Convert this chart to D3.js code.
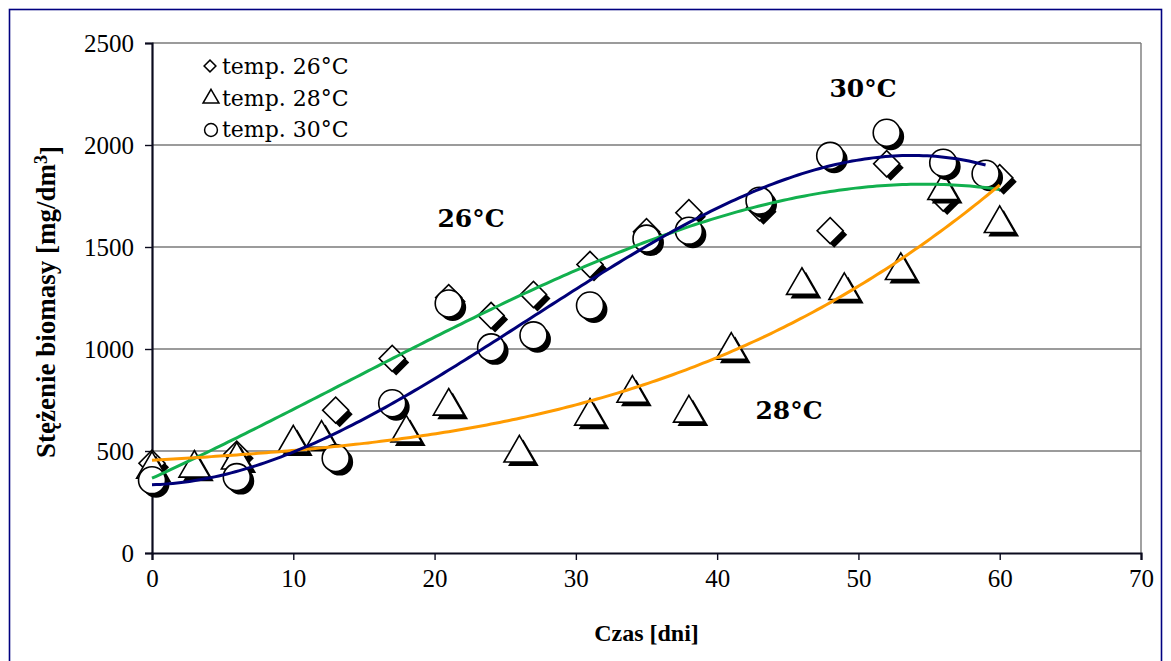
<!DOCTYPE html>
<html>
<head>
<meta charset="utf-8">
<script src="https://cdn.jsdelivr.net/npm/d3@7"></script>
<style>
  html, body { margin: 0; padding: 0; background: #fff; }
  svg { display: block; }
</style>
</head>
<body>
<svg id="chart" width="1171" height="661"></svg>
<script>
// Biomass concentration over time at three cultivation temperatures
const days26 = [0, 6, 13, 17, 21, 24, 27, 31, 35, 38, 43, 48, 52, 56, 60];
const bio26  = [440, 484, 700, 954, 1252, 1164, 1267, 1414, 1575, 1668, 1693, 1580, 1908, 1740, 1840];

const days28 = [0, 3, 6, 10, 12, 18, 21, 26, 31, 34, 38, 41, 46, 49, 53, 56, 60];
const bio28  = [425, 430, 470, 553, 577, 602, 734, 504, 685, 797, 700, 1008, 1326, 1301, 1399, 1791, 1629];

const days30 = [0, 6, 13, 17, 21, 24, 27, 31, 35, 38, 43, 48, 52, 56, 59];
const bio30  = [357, 372, 465, 734, 1223, 1008, 1067, 1213, 1541, 1580, 1727, 1947, 2060, 1913, 1859];

const seriesNames = ["temp. 26°C", "temp. 28°C", "temp. 30°C"];
const curveLabels = ["26°C", "28°C", "30°C"];
const xTicks = [0, 10, 20, 30, 40, 50, 60, 70];
const yTicks = [0, 500, 1000, 1500, 2000, 2500];

const series = [
  { name: seriesNames[0], label: curveLabels[0], xs: days26, ys: bio26, shape: "diamond",  color: "#12b04e", lx: 471, ly: 227 },
  { name: seriesNames[1], label: curveLabels[1], xs: days28, ys: bio28, shape: "triangle", color: "#ff9b00", lx: 789, ly: 419 },
  { name: seriesNames[2], label: curveLabels[2], xs: days30, ys: bio30, shape: "circle",   color: "#000078", lx: 863, ly: 97 }
];

const svg = d3.select("#chart");
const plot = { left: 152, right: 1141, top: 43, bottom: 553 };

const x = d3.scaleLinear().domain([0, 70]).range([plot.left, plot.right]);
const y = d3.scaleLinear().domain([0, 2500]).range([plot.bottom, plot.top]);

const serif = "'Liberation Serif', 'Times New Roman', serif";

// outer frame
svg.append("rect").attr("x", 9.5).attr("y", 9.5).attr("width", 1152).attr("height", 660)
  .attr("fill", "#fff").attr("stroke", "#000080").attr("stroke-width", 1.6);

// horizontal gridlines
svg.append("g").selectAll("line").data(yTicks.filter(d => d > 0)).join("line")
  .attr("x1", plot.left).attr("x2", plot.right)
  .attr("y1", d => y(d)).attr("y2", d => y(d))
  .attr("stroke", "#7a7a7a").attr("stroke-width", 1.4);

// right border of plot area
svg.append("line").attr("x1", plot.right).attr("x2", plot.right)
  .attr("y1", plot.top).attr("y2", plot.bottom)
  .attr("stroke", "#7a7a7a").attr("stroke-width", 1.4);

// axes
const fmt = d3.format("d");
const xAxis = d3.axisBottom(x).tickValues(xTicks).tickFormat(fmt).tickSize(7).tickPadding(8);
const yAxis = d3.axisLeft(y).tickValues(yTicks).tickFormat(fmt).tickSize(7).tickPadding(11);

const gx = svg.append("g").attr("transform", `translate(0,${plot.bottom})`).call(xAxis);
const gy = svg.append("g").attr("transform", `translate(${plot.left},0)`).call(yAxis);
[gx, gy].forEach(g => {
  g.attr("font-family", null).attr("font-size", null);
  g.select(".domain").attr("stroke", "#0b0b1e").attr("stroke-width", 2.2);
  g.selectAll(".tick line").attr("stroke", "#0b0b1e").attr("stroke-width", 1.4);
  g.selectAll(".tick text").attr("fill", "#000")
    .style("font-family", serif)
    .style("font-size", "25px");
});
gy.selectAll(".tick text").attr("dy", "0.34em");
gx.selectAll(".tick text").attr("dy", "0.75em");

// marker shapes
const symbolFor = {
  diamond: d3.symbol().type(d3.symbolSquare).size(340),
  triangle: d3.symbol().type(d3.symbolTriangle).size(410),
  circle: d3.symbol().type(d3.symbolCircle).size(570)
};
function markerTransform(shape, px, py) {
  if (shape === "diamond") return `translate(${px},${py}) rotate(45)`;
  if (shape === "triangle") return `translate(${px},${py + 3})`;
  return `translate(${px},${py})`;
}

// points: a dark offset shadow below each white marker
series.forEach(s => {
  const pts = s.xs.map((d, i) => ({ d, v: s.ys[i] }));
  const g = svg.append("g");
  g.selectAll("path.shadow").data(pts).join("path")
    .attr("class", "shadow")
    .attr("d", symbolFor[s.shape]())
    .attr("transform", p => markerTransform(s.shape, x(p.d) + 4, y(p.v) + 4))
    .attr("fill", "#000");
  g.selectAll("path.mark").data(pts).join("path")
    .attr("class", "mark")
    .attr("d", symbolFor[s.shape]())
    .attr("transform", p => markerTransform(s.shape, x(p.d), y(p.v)))
    .attr("fill", "#fff").attr("stroke", "#000").attr("stroke-width", 1.6);
});

// third-order polynomial least-squares trend of a series
function polyFit(xs, ys, order) {
  const n = order + 1, sc = 60;
  const A = Array.from({ length: n }, () => new Array(n + 1).fill(0));
  xs.forEach((xv, k) => {
    const t = xv / sc;
    for (let i = 0; i < n; i++) {
      for (let j = 0; j < n; j++) A[i][j] += Math.pow(t, i + j);
      A[i][n] += ys[k] * Math.pow(t, i);
    }
  });
  for (let c = 0; c < n; c++) {
    let p = c;
    for (let r = c + 1; r < n; r++) if (Math.abs(A[r][c]) > Math.abs(A[p][c])) p = r;
    [A[c], A[p]] = [A[p], A[c]];
    for (let r = 0; r < n; r++) {
      if (r === c) continue;
      const f = A[r][c] / A[c][c];
      for (let j = c; j <= n; j++) A[r][j] -= f * A[c][j];
    }
  }
  const coef = A.map((row, i) => row[n] / row[i]);
  return xv => coef.reduce((acc, cf, i) => acc + cf * Math.pow(xv / sc, i), 0);
}

const line = d3.line().x(p => x(p[0])).y(p => y(p[1]));
series.forEach(s => {
  const f = polyFit(s.xs, s.ys, 3);
  const x0 = d3.min(s.xs), x1 = d3.max(s.xs);
  const samples = d3.range(0, 201).map(i => x0 + (x1 - x0) * i / 200);
  svg.append("path")
    .attr("d", line(samples.map(t => [t, f(t)])))
    .attr("fill", "none").attr("stroke", s.color).attr("stroke-width", 3);
});

// curve labels
svg.append("g").selectAll("text").data(series).join("text")
  .attr("x", s => s.lx).attr("y", s => s.ly)
  .attr("text-anchor", "middle")
  .style("font-family", "'DejaVu Serif', serif")
  .style("font-weight", "bold").style("font-size", "25px")
  .text(s => s.label);

// legend
const legend = svg.append("g");
series.forEach((s, i) => {
  const ly = 66 + i * 31.5;
  const type = s.shape === "diamond" ? d3.symbolSquare : s.shape === "triangle" ? d3.symbolTriangle : d3.symbolCircle;
  const small = d3.symbol().type(type).size(s.shape === "triangle" ? 110 : s.shape === "diamond" ? 70 : 130)();
  legend.append("path")
    .attr("d", small)
    .attr("transform", s.shape === "diamond" ? `translate(210,${ly}) rotate(45)` : `translate(211,${ly + 1})`)
    .attr("fill", "#fff").attr("stroke", "#000").attr("stroke-width", 1.5);
  legend.append("text")
    .attr("x", 222).attr("y", ly + 8)
    .style("font-family", "'DejaVu Serif', serif").style("font-size", "22px")
    .text(s.name);
});

// axis titles
svg.append("text").attr("x", x(35)).attr("y", 641).attr("text-anchor", "middle")
  .style("font-family", serif)
  .style("font-weight", "bold").style("font-size", "24px")
  .text("Czas [dni]");

const yt = svg.append("text")
  .attr("transform", `translate(55,${(plot.top + plot.bottom) / 2 + 4}) rotate(-90)`)
  .attr("text-anchor", "middle")
  .style("font-family", serif)
  .style("font-weight", "bold").style("font-size", "27px");
yt.append("tspan").text("Stężenie biomasy  [mg/dm");
yt.append("tspan").attr("dy", "-0.45em").style("font-size", "18px").text("3");
yt.append("tspan").attr("dy", "0.45em").text("]");
</script>
</body>
</html>
